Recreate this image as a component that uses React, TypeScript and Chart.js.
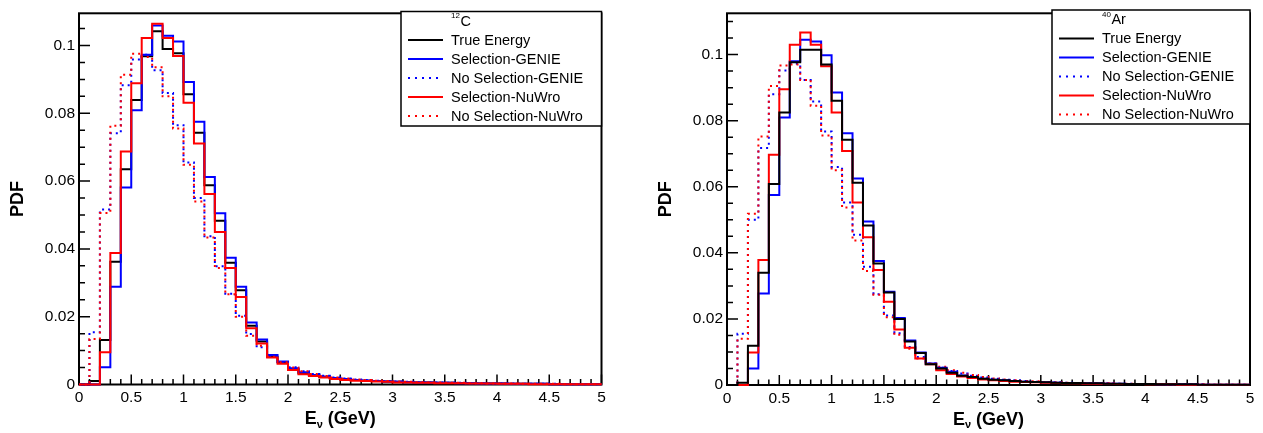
import React, { useEffect, useRef } from 'react';
import { Chart, registerables } from 'chart.js';

Chart.register(...registerables);

const FONT = '"Liberation Sans", Arial, Helvetica, sans-serif';

// ---------------- data ----------------
const binLowEdges = [
  0, 0.1, 0.2, 0.3, 0.4, 0.5, 0.6, 0.7, 0.8, 0.9,
  1.0, 1.1, 1.2, 1.3, 1.4, 1.5, 1.6, 1.7, 1.8, 1.9,
  2.0, 2.1, 2.2, 2.3, 2.4, 2.5, 2.6, 2.7, 2.8, 2.9,
  3.0, 3.1, 3.2, 3.3, 3.4, 3.5, 3.6, 3.7, 3.8, 3.9,
  4.0, 4.1, 4.2, 4.3, 4.4, 4.5, 4.6, 4.7, 4.8, 4.9,
];
const lastBinUpEdge = 5;

const seriesLabels = ['True Energy', 'Selection-GENIE', 'No Selection-GENIE', 'Selection-NuWro', 'No Selection-NuWro'];
const seriesColors = ['#000000', '#0000ff', '#0000ff', '#ff0000', '#ff0000'];
const seriesDotted = [false, false, true, false, true];

// 12C panel
const c12TrueEnergy = [
  0, 0.001, 0.0131, 0.0362, 0.0635, 0.0839, 0.0968, 0.1042, 0.099, 0.0977,
  0.0856, 0.0743, 0.0588, 0.0483, 0.0359, 0.0278, 0.0173, 0.0127, 0.0082, 0.0066,
  0.0046, 0.0033, 0.0027, 0.0023, 0.0019, 0.0016, 0.0013, 0.0011, 0.001, 0.0009,
  0.0008, 0.0007, 0.0006, 0.0006, 0.0005, 0.0005, 0.0004, 0.0004, 0.0003, 0.0003,
  0.0003, 0.0002, 0.0002, 0.0002, 0.0002, 0.0001, 0.0001, 0.0001, 0.0001, 0.0001,
];
const c12SelGenie = [
  0, 0, 0.0051, 0.0288, 0.0581, 0.0809, 0.0973, 0.1059, 0.1029, 0.1012,
  0.0892, 0.0775, 0.0612, 0.0505, 0.0374, 0.0288, 0.0183, 0.0133, 0.0087, 0.0068,
  0.0048, 0.0036, 0.0028, 0.0023, 0.0019, 0.0016, 0.0013, 0.0012, 0.001, 0.0009,
  0.0008, 0.0007, 0.0006, 0.0006, 0.0005, 0.0005, 0.0004, 0.0004, 0.0003, 0.0003,
  0.0003, 0.0002, 0.0002, 0.0002, 0.0002, 0.0001, 0.0001, 0.0001, 0.0001, 0.0001,
];
const c12NoSelGenie = [
  0, 0.0154, 0.0516, 0.0741, 0.0883, 0.0959, 0.0973, 0.0927, 0.086, 0.0765,
  0.0655, 0.055, 0.0437, 0.0349, 0.0268, 0.0203, 0.0149, 0.011, 0.0082, 0.0066,
  0.0051, 0.0039, 0.0031, 0.0026, 0.0021, 0.0018, 0.0015, 0.0013, 0.0011, 0.001,
  0.0009, 0.0008, 0.0007, 0.0006, 0.0006, 0.0005, 0.0005, 0.0004, 0.0004, 0.0003,
  0.0003, 0.0003, 0.0002, 0.0002, 0.0002, 0.0002, 0.0001, 0.0001, 0.0001, 0.0001,
];
const c12SelNuwro = [
  0, 0, 0.0095, 0.0388, 0.0687, 0.0889, 0.1022, 0.1064, 0.1022, 0.0969,
  0.0831, 0.0711, 0.0562, 0.045, 0.0344, 0.0258, 0.0166, 0.0121, 0.008, 0.0061,
  0.0043, 0.003, 0.0025, 0.0021, 0.0016, 0.0013, 0.0011, 0.001, 0.0009, 0.0008,
  0.0006, 0.0006, 0.0005, 0.0005, 0.0004, 0.0004, 0.0004, 0.0003, 0.0003, 0.0003,
  0.0002, 0.0002, 0.0002, 0.0001, 0.0001, 0.0001, 0.0001, 0.0001, 0.0001, 0.0001,
];
const c12NoSelNuwro = [
  0, 0.0134, 0.0506, 0.0763, 0.0914, 0.0976, 0.0966, 0.0936, 0.085, 0.0755,
  0.0648, 0.054, 0.0434, 0.0344, 0.0266, 0.02, 0.0144, 0.0114, 0.0082, 0.0066,
  0.005, 0.0039, 0.0031, 0.0025, 0.0021, 0.0018, 0.0015, 0.0013, 0.0011, 0.001,
  0.0009, 0.0008, 0.0007, 0.0006, 0.0006, 0.0005, 0.0005, 0.0004, 0.0004, 0.0003,
  0.0003, 0.0003, 0.0002, 0.0002, 0.0002, 0.0002, 0.0001, 0.0001, 0.0001, 0.0001,
];

// 40Ar panel
const ar40TrueEnergy = [
  0, 0.0007, 0.0119, 0.034, 0.0608, 0.0825, 0.0977, 0.1015, 0.1015, 0.097,
  0.086, 0.0742, 0.0612, 0.0483, 0.0368, 0.028, 0.02, 0.0132, 0.0097, 0.0063,
  0.005, 0.0037, 0.0028, 0.0024, 0.0019, 0.0016, 0.0014, 0.0012, 0.001, 0.0009,
  0.0008, 0.0007, 0.0006, 0.0006, 0.0005, 0.0005, 0.0004, 0.0004, 0.0003, 0.0003,
  0.0003, 0.0002, 0.0002, 0.0002, 0.0002, 0.0001, 0.0001, 0.0001, 0.0001, 0.0001,
];
const ar40SelGenie = [
  0, 0, 0.005, 0.0277, 0.0575, 0.081, 0.098, 0.1045, 0.104, 0.0998,
  0.0885, 0.0762, 0.0625, 0.0495, 0.0375, 0.0282, 0.0203, 0.0135, 0.0098, 0.0065,
  0.0052, 0.004, 0.0029, 0.0024, 0.0019, 0.0016, 0.0014, 0.0012, 0.001, 0.0009,
  0.0008, 0.0007, 0.0006, 0.0006, 0.0005, 0.0005, 0.0004, 0.0004, 0.0003, 0.0003,
  0.0003, 0.0002, 0.0002, 0.0002, 0.0002, 0.0001, 0.0001, 0.0001, 0.0001, 0.0001,
];
const ar40NoSelGenie = [
  0, 0.0155, 0.05, 0.0717, 0.088, 0.0952, 0.0972, 0.0923, 0.0858, 0.0767,
  0.066, 0.0552, 0.0455, 0.0358, 0.0275, 0.021, 0.0157, 0.0115, 0.0085, 0.0065,
  0.0052, 0.0042, 0.0035, 0.0028, 0.0023, 0.0019, 0.0016, 0.0014, 0.0012, 0.001,
  0.0009, 0.0008, 0.0007, 0.0006, 0.0006, 0.0005, 0.0005, 0.0004, 0.0004, 0.0003,
  0.0003, 0.0003, 0.0002, 0.0002, 0.0002, 0.0002, 0.0001, 0.0001, 0.0001, 0.0001,
];
const ar40SelNuwro = [
  0, 0, 0.0098, 0.0378, 0.0697, 0.0895, 0.103, 0.1067, 0.103, 0.0965,
  0.0825, 0.0708, 0.0552, 0.0447, 0.0348, 0.0252, 0.0168, 0.0113, 0.008, 0.0063,
  0.0045, 0.0033, 0.0026, 0.0021, 0.0017, 0.0014, 0.0012, 0.001, 0.0009, 0.0008,
  0.0007, 0.0006, 0.0005, 0.0005, 0.0004, 0.0004, 0.0004, 0.0003, 0.0003, 0.0003,
  0.0002, 0.0002, 0.0002, 0.0001, 0.0001, 0.0001, 0.0001, 0.0001, 0.0001, 0.0001,
];
const ar40NoSelNuwro = [
  0, 0.014, 0.0518, 0.0752, 0.0905, 0.0967, 0.097, 0.0923, 0.0845, 0.0755,
  0.065, 0.0537, 0.0437, 0.0345, 0.0273, 0.0205, 0.0152, 0.011, 0.008, 0.0065,
  0.0055, 0.0045, 0.0037, 0.003, 0.0024, 0.002, 0.0017, 0.0014, 0.0012, 0.0011,
  0.0009, 0.0008, 0.0007, 0.0006, 0.0006, 0.0005, 0.0005, 0.0004, 0.0004, 0.0003,
  0.0003, 0.0003, 0.0002, 0.0002, 0.0002, 0.0002, 0.0001, 0.0001, 0.0001, 0.0001,
];

const xMajorStep = 0.5;
const yMajorStep = 0.02;
const yMinorStep = 0.005;
const xAxisTitleMain = 'E';
const xAxisTitleSub = 'ν';
const xAxisTitleRest = ' (GeV)';
const yAxisTitle = 'PDF';

// ---------------- layout ----------------
type PanelSpec = {
  width: number;
  height: number;
  area: { left: number; right: number; top: number; bottom: number };
  yMax: number;
  massNumber: string;
  symbol: string;
  values: number[][];
  drawRank: number[]; // 0 = bottom-most
  legend: { width: number; height: number; top: number };
};

const panels: PanelSpec[] = [
  {
    width: 631,
    height: 433,
    area: { left: 79, right: 601.5, top: 10.7, bottom: 384.5 },
    yMax: 0.1095,
    massNumber: '12',
    symbol: 'C',
    values: [c12TrueEnergy, c12SelGenie, c12NoSelGenie, c12SelNuwro, c12NoSelNuwro],
    drawRank: [0, 1, 2, 3, 4],
    legend: { width: 200.5, height: 114.5, top: 11.5 },
  },
  {
    width: 632,
    height: 433,
    area: { left: 96, right: 619, top: 10, bottom: 385 },
    yMax: 0.1125,
    massNumber: '40',
    symbol: 'Ar',
    values: [ar40TrueEnergy, ar40SelGenie, ar40NoSelGenie, ar40SelNuwro, ar40NoSelNuwro],
    drawRank: [4, 2, 0, 3, 1],
    legend: { width: 198, height: 114, top: 10 },
  },
];

function histPoints(values: number[]) {
  const pts = binLowEdges.map((x, i) => ({ x, y: values[i] }));
  pts.push({ x: lastBinUpEdge, y: values[values.length - 1] });
  return pts;
}

function makeRootPlugin(p: PanelSpec) {
  return {
    id: 'rootStyle',
    beforeDatasetsDraw(chart: any) {
      const { ctx, chartArea: a, scales } = chart;
      const x = scales.x;
      const y = scales.y;
      ctx.save();
      ctx.strokeStyle = '#000';
      // x ticks (inside)
      ctx.lineWidth = 1.5;
      ctx.beginPath();
      const xEdges = [...binLowEdges, lastBinUpEdge];
      xEdges.forEach((v) => {
        const px = x.getPixelForValue(v);
        const major = Math.abs(v / xMajorStep - Math.round(v / xMajorStep)) < 1e-6;
        ctx.moveTo(px, a.bottom);
        ctx.lineTo(px, a.bottom - (major ? 10 : 5.5));
      });
      // y ticks (inside)
      for (let k = 0; k * yMinorStep <= p.yMax + 1e-9; k++) {
        const v = k * yMinorStep;
        const py = y.getPixelForValue(v);
        const major = k % Math.round(yMajorStep / yMinorStep) === 0;
        ctx.moveTo(a.left, py);
        ctx.lineTo(a.left + (major ? 11 : 6), py);
      }
      ctx.stroke();
      // frame
      ctx.lineWidth = 2;
      ctx.strokeRect(a.left, a.top, a.right - a.left, a.bottom - a.top);
      ctx.restore();
    },
    afterDatasetsDraw(chart: any) {
      const { ctx, chartArea: a } = chart;
      const lg = p.legend;
      const bx = a.right - lg.width;
      const by = lg.top;
      ctx.save();
      ctx.fillStyle = '#fff';
      ctx.fillRect(bx, by, lg.width, lg.height);
      ctx.strokeStyle = '#000';
      ctx.lineWidth = 1.5;
      ctx.strokeRect(bx, by, lg.width, lg.height);
      // header with superscript mass number
      ctx.fillStyle = '#000';
      ctx.textAlign = 'left';
      ctx.textBaseline = 'alphabetic';
      ctx.font = `8px ${FONT}`;
      ctx.fillText(p.massNumber, bx + 50, by + 6.5);
      const sw = ctx.measureText(p.massNumber).width;
      ctx.font = `14.5px ${FONT}`;
      ctx.fillText(p.symbol, bx + 50 + sw + 0.5, by + 14);
      // entries
      seriesLabels.forEach((label, i) => {
        const cy = by + 28.5 + 19 * i;
        ctx.strokeStyle = seriesColors[i];
        ctx.lineWidth = 2;
        ctx.setLineDash(seriesDotted[i] ? [2, 5] : []);
        ctx.beginPath();
        ctx.moveTo(bx + 7, cy);
        ctx.lineTo(bx + 42, cy);
        ctx.stroke();
        ctx.setLineDash([]);
        ctx.fillStyle = '#000';
        ctx.textBaseline = 'middle';
        ctx.font = `14.5px ${FONT}`;
        ctx.fillText(label, bx + 50, cy + 0.5);
      });
      ctx.restore();
    },
    afterDraw(chart: any) {
      const { ctx, chartArea: a } = chart;
      ctx.save();
      ctx.fillStyle = '#000';
      // y title
      ctx.translate(a.left - 61, (a.top + a.bottom) / 2);
      ctx.rotate(-Math.PI / 2);
      ctx.textAlign = 'center';
      ctx.textBaseline = 'middle';
      ctx.font = `bold 18px ${FONT}`;
      ctx.fillText(yAxisTitle, 0, 0);
      ctx.restore();
      // x title with subscript
      ctx.save();
      ctx.fillStyle = '#000';
      ctx.textAlign = 'left';
      ctx.textBaseline = 'alphabetic';
      const mainFont = `bold 18px ${FONT}`;
      const subFont = `bold 11px ${FONT}`;
      ctx.font = mainFont;
      const w1 = ctx.measureText(xAxisTitleMain).width;
      const w3 = ctx.measureText(xAxisTitleRest).width;
      ctx.font = subFont;
      const w2 = ctx.measureText(xAxisTitleSub).width;
      const total = w1 + w2 + w3;
      let sx = (a.left + a.right) / 2 - total / 2;
      const base = a.bottom + 39.5;
      ctx.font = mainFont;
      ctx.fillText(xAxisTitleMain, sx, base);
      sx += w1;
      ctx.font = subFont;
      ctx.fillText(xAxisTitleSub, sx, base + 3.5);
      sx += w2;
      ctx.font = mainFont;
      ctx.fillText(xAxisTitleRest, sx, base);
      ctx.restore();
    },
  };
}

function Panel({ spec }: { spec: PanelSpec }) {
  const ref = useRef<HTMLCanvasElement | null>(null);
  useEffect(() => {
    if (!ref.current) return;
    const n = spec.values.length;
    const datasets = spec.values.map((vals, i) => ({
      label: seriesLabels[i],
      data: histPoints(vals),
      borderColor: seriesColors[i],
      backgroundColor: seriesColors[i],
      borderWidth: 2,
      borderDash: seriesDotted[i] ? [2, 4] : [],
      stepped: 'before' as const,
      pointRadius: 0,
      fill: false,
      clip: false as const,
      order: n - spec.drawRank[i],
    }));
    const chart = new Chart(ref.current, {
      type: 'line',
      data: { datasets },
      plugins: [makeRootPlugin(spec)],
      options: {
        animation: false,
        responsive: false,
        devicePixelRatio: 1,
        events: [],
        layout: {
          padding: { left: 0, right: spec.width - spec.area.right, top: spec.area.top, bottom: 0 },
        },
        plugins: { legend: { display: false }, tooltip: { enabled: false }, title: { display: false } },
        scales: {
          x: {
            type: 'linear',
            min: 0,
            max: lastBinUpEdge,
            grid: { display: false, drawTicks: false },
            border: { display: false },
            ticks: {
              stepSize: xMajorStep,
              autoSkip: false,
              maxRotation: 0,
              padding: 4,
              color: '#000',
              font: { family: FONT, size: 15.5 },
              callback: (v: any) => String(Math.round(Number(v) * 10) / 10),
            },
            afterFit: (s: any) => {
              s.height = spec.height - spec.area.bottom;
            },
          },
          y: {
            type: 'linear',
            min: 0,
            max: spec.yMax,
            grid: { display: false, drawTicks: false },
            border: { display: false },
            ticks: {
              stepSize: yMajorStep,
              includeBounds: false,
              padding: 4,
              color: '#000',
              font: { family: FONT, size: 15.5 },
              callback: (v: any) => {
                const r = Math.round(Number(v) * 100) / 100;
                return r === 0 ? '0' : String(r);
              },
            },
            afterFit: (s: any) => {
              s.width = spec.area.left;
            },
          },
        },
      } as any,
    });
    return () => chart.destroy();
  }, [spec]);
  return (
    <canvas
      ref={ref}
      width={spec.width}
      height={spec.height}
      style={{ display: 'block', width: spec.width, height: spec.height }}
    />
  );
}

export default function App() {
  return (
    <div
      style={{
        position: 'fixed',
        left: 0,
        top: 0,
        width: 1263,
        height: 433,
        display: 'flex',
        background: '#fff',
      }}
    >
      {panels.map((p, i) => (
        <Panel key={i} spec={p} />
      ))}
    </div>
  );
}
